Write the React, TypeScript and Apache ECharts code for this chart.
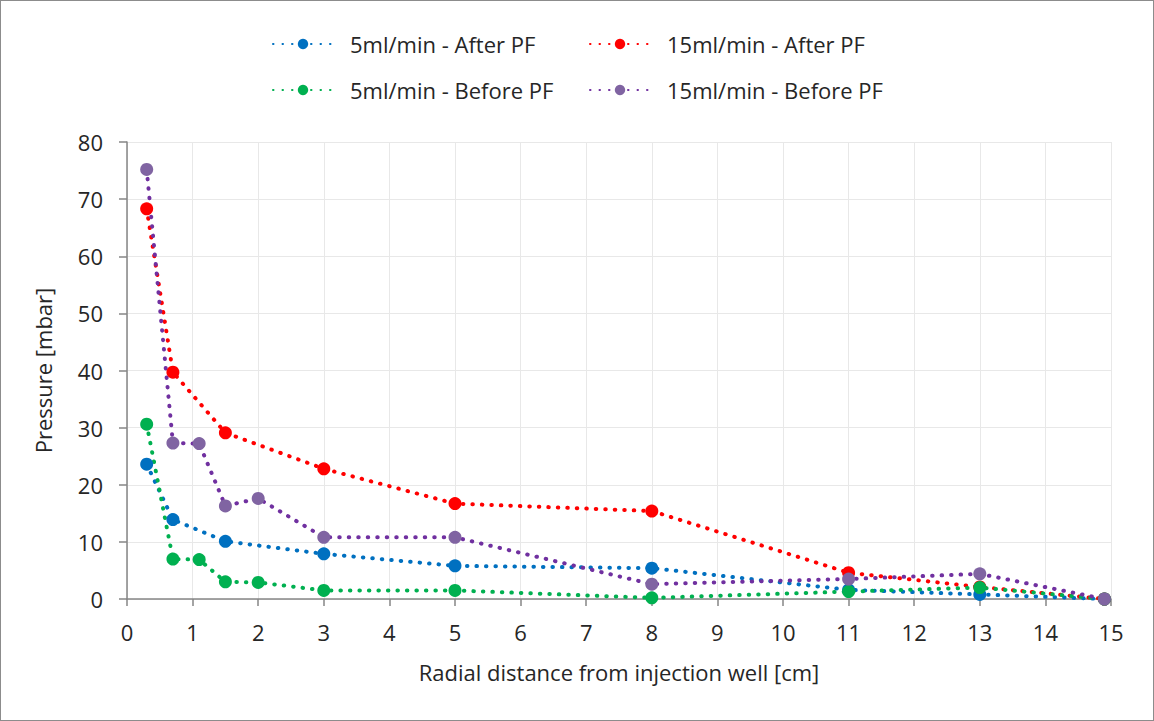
import React, { useEffect, useRef } from "react";
import * as echarts from "echarts";

const xAfter5 = [0.3, 0.7, 1.5, 3, 5, 8, 11, 13, 14.9];
const yAfter5 = [23.6, 13.9, 10.1, 7.9, 5.8, 5.4, 1.6, 0.8, 0];
const xAfter15 = [0.3, 0.7, 1.5, 3, 5, 8, 11, 13, 14.9];
const yAfter15 = [68.3, 39.7, 29.1, 22.8, 16.7, 15.4, 4.6, 2.1, 0];
const xBefore5 = [0.3, 0.7, 1.1, 1.5, 2, 3, 5, 8, 11, 13, 14.9];
const yBefore5 = [30.6, 7.0, 6.9, 3.0, 2.9, 1.5, 1.5, 0.2, 1.3, 2.0, 0];
const xBefore15 = [0.3, 0.7, 1.1, 1.5, 2, 3, 5, 8, 11, 13, 14.9];
const yBefore15 = [75.2, 27.3, 27.2, 16.3, 17.6, 10.8, 10.8, 2.6, 3.5, 4.4, 0];

const seriesNames = [
  "5ml/min - After PF",
  "15ml/min - After PF",
  "5ml/min - Before PF",
  "15ml/min - Before PF",
];

const FONT = "'Open Sans', 'Noto Sans', sans-serif";
const TXT = "#262626";

function pairs(xs: number[], ys: number[]) {
  return xs.map((x, i) => [x, ys[i]]);
}

function mkSeries(name: string, data: number[][], lineColor: string, markColor: string) {
  return {
    name,
    type: "line",
    data,
    symbol: "circle",
    symbolSize: 13,
    showSymbol: true,
    itemStyle: { color: markColor },
    lineStyle: { color: lineColor, width: 4, type: [0.5, 9], cap: "round" },
    emphasis: { disabled: true },
  };
}

export default function App() {
  const ref = useRef<HTMLDivElement>(null);
  useEffect(() => {
    if (!ref.current) return;
    const chart = echarts.init(ref.current, null, { renderer: "svg" });
    const legendCommon = {
      itemWidth: 60,
      itemHeight: 13,
      textStyle: { fontFamily: FONT, fontSize: 22, color: TXT, padding: [0, 0, 0, 12] },
      selectedMode: false,
    };
    chart.setOption({
      animation: false,
      backgroundColor: "#fff",
      textStyle: { fontFamily: FONT },
      legend: [
        { ...legendCommon, data: [seriesNames[0]], left: 266, top: 27 },
        { ...legendCommon, data: [seriesNames[1]], left: 583, top: 27 },
        { ...legendCommon, data: [seriesNames[2]], left: 266, top: 73 },
        { ...legendCommon, data: [seriesNames[3]], left: 583, top: 73 },
      ],
      grid: { left: 126, right: 42, top: 141, bottom: 121 },
      xAxis: {
        type: "value",
        min: 0,
        max: 15,
        interval: 1,
        name: "Radial distance from injection well [cm]",
        nameLocation: "middle",
        nameGap: 62,
        nameTextStyle: { fontFamily: FONT, fontSize: 22, color: TXT },
        axisLine: { show: true, lineStyle: { color: "#868686", width: 1.5 } },
        axisTick: { show: true, length: 7, lineStyle: { color: "#868686", width: 1.5 } },
        axisLabel: { fontFamily: FONT, fontSize: 22, color: TXT, margin: 22 },
        splitLine: { show: true, lineStyle: { color: "#e8e8e8", width: 1 } },
      },
      yAxis: {
        type: "value",
        min: 0,
        max: 80,
        interval: 10,
        name: "Pressure [mbar]",
        nameLocation: "middle",
        nameGap: 73,
        nameTextStyle: { fontFamily: FONT, fontSize: 22, color: TXT },
        axisLine: { show: true, lineStyle: { color: "#868686", width: 1.5 } },
        axisTick: { show: true, length: 8, lineStyle: { color: "#868686", width: 1.5 } },
        axisLabel: { fontFamily: FONT, fontSize: 22, color: TXT, margin: 24 },
        splitLine: { show: true, lineStyle: { color: "#e8e8e8", width: 1 } },
      },
      series: [
        mkSeries(seriesNames[0], pairs(xAfter5, yAfter5), "#0070C0", "#0070C0"),
        mkSeries(seriesNames[1], pairs(xAfter15, yAfter15), "#FF0000", "#FF0000"),
        mkSeries(seriesNames[2], pairs(xBefore5, yBefore5), "#00B050", "#00B050"),
        mkSeries(seriesNames[3], pairs(xBefore15, yBefore15), "#7030A0", "#8064A2"),
      ],
    });
    return () => chart.dispose();
  }, []);
  return (
    <div
      ref={ref}
      style={{
        position: "fixed",
        left: 0,
        top: 0,
        width: 1154,
        height: 721,
        border: "1px solid #8c8c8c",
        boxSizing: "border-box",
      }}
    />
  );
}
